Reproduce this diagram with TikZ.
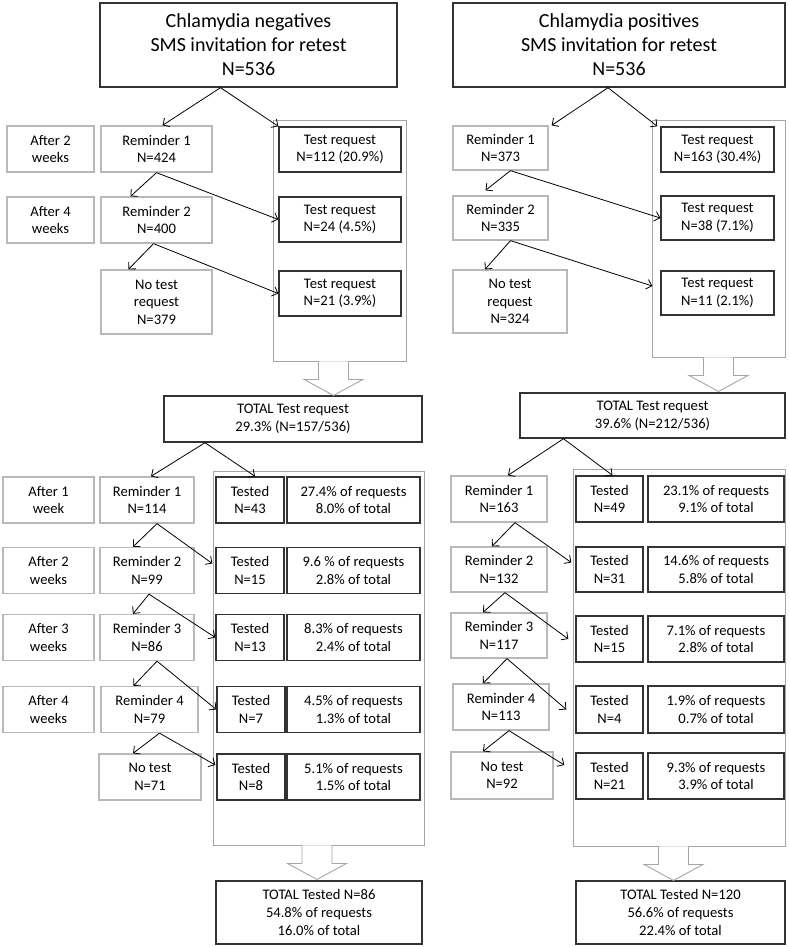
\documentclass[tikz,border=0pt]{standalone}
\usepackage{fontspec}
\setmainfont{Carlito}
\usetikzlibrary{arrows.meta,calc}
\definecolor{boxdark}{HTML}{333333}
\definecolor{boxlight}{HTML}{B8B8B8}
\definecolor{framegray}{HTML}{A6A6A6}
\newcommand\bodyfont{\fontsize{14.6}{17.6}\selectfont}
\newcommand\headfont{\fontsize{20}{24}\selectfont}
\newcommand\hollowarrow[1]{%
  \draw[hollow] ($(#1)+(-15,0)$) -- ++(0,18) -- ++(-14.5,0) -- ++(29.5,16)
    -- ++(29.5,-16) -- ++(-14.5,0) -- ++(0,-18);}
\tikzset{
  sz/.style 2 args={minimum width=#1,minimum height=#2},
  darkbox/.style={draw=boxdark,line width=1.4pt,align=center,inner sep=0pt,font=\bodyfont},
  lightbox/.style={draw=boxlight,line width=1.3pt,align=center,inner sep=0pt,font=\bodyfont},
  titlebox/.style={darkbox,font=\headfont},
  frame/.style={draw=framegray,line width=0.9pt,inner sep=0pt},
  flow/.style={-{Straight Barb[length=5pt,width=10pt]},line width=0.8pt},
  hollow/.style={draw=framegray,fill=white,line width=0.9pt}
}

\begin{document}
\begin{tikzpicture}[x=1pt,y=-1pt]
    \useasboundingbox (0,0) rectangle (788,947);

    % Chlamydia negatives: requests
    \node[titlebox,sz={297}{84}] (titleN) at (248.5,45) {Chlamydia negatives\\SMS invitation for retest\\N=536};
    \node[frame,sz={133}{241}] (reqframeN) at (339.5,240.5) {};
    \node[lightbox,sz={87}{46}] (wkrN2) at (50.5,149) {After 2\\weeks};
    \node[lightbox,sz={87}{46}] (wkrN4) at (50.5,220) {After 4\\weeks};
    \node[lightbox,sz={111}{46}] (remN1) at (156.5,149) {Reminder 1\\N=424};
    \node[lightbox,sz={111}{46}] (remN2) at (156.5,220) {Reminder 2\\N=400};
    \node[lightbox,sz={111}{64}] (noreqN) at (156.5,302) {No test\\request\\N=379};
    \node[darkbox,sz={122}{45}] (reqN1) at (340,149.5) {Test request\\N=112 (20.9\%)};
    \node[darkbox,sz={122}{45}] (reqN2) at (340,219.5) {Test request\\N=24 (4.5\%)};
    \node[darkbox,sz={122}{45}] (reqN3) at (340,293.5) {Test request\\N=21 (3.9\%)};
    \node[darkbox,sz={258}{46}] (reqtotN) at (293,419) {TOTAL Test request\\29.3\% (N=157/536)};

    \draw[flow] ([xshift=-28]titleN.south) -- ([xshift=6]remN1.north);
    \draw[flow] ([xshift=-28]titleN.south) -- (reqN1.north west);
    \draw[flow] (remN1.south) -- ([xshift=-26]remN2.north);
    \draw[flow] (remN1.south) -- (reqN2.west);
    \draw[flow] ([xshift=-3]remN2.south) -- ([xshift=-28]noreqN.north);
    \draw[flow] ([xshift=-3]remN2.south) -- (reqN3.west);
    \hollowarrow{[xshift=-6]reqframeN.south}

    % Chlamydia negatives: tested
    \node[frame,sz={211}{374}] (testframeN) at (318.5,658) {};
    \node[lightbox,sz={91}{46}] (wktN1) at (48.5,500) {After 1\\week};
    \node[lightbox,sz={91}{46}] (wktN2) at (48.5,570.5) {After 2\\weeks};
    \node[lightbox,sz={91}{46}] (wktN3) at (48.5,637.5) {After 3\\weeks};
    \node[lightbox,sz={91}{46}] (wktN4) at (48.5,709.5) {After 4\\weeks};
    \node[lightbox,sz={94}{46}] (rtN1) at (147,500) {Reminder 1\\N=114};
    \node[lightbox,sz={94}{46}] (rtN2) at (147,570.5) {Reminder 2\\N=99};
    \node[lightbox,sz={94}{46}] (rtN3) at (147,637.5) {Reminder 3\\N=86};
    \node[lightbox,sz={97}{46}] (rtN4) at (149.5,709.5) {Reminder 4\\N=79};
    \node[lightbox,sz={102}{46}] (notestN) at (150,777) {No test\\N=71};
    \node[darkbox,sz={68}{46}] (testN1) at (250,500) {Tested\\N=43};
    \node[darkbox,sz={68}{46}] (testN2) at (250,570.5) {Tested\\N=15};
    \node[darkbox,sz={68}{46}] (testN3) at (250,637.5) {Tested\\N=13};
    \node[darkbox,sz={68}{46}] (testN4) at (251,709.5) {Tested\\N=7};
    \node[darkbox,sz={68}{46}] (testN5) at (251,777) {Tested\\N=8};
    \node[darkbox,sz={133}{46}] (pctN1) at (353.5,500) {27.4\% of requests\\8.0\% of total};
    \node[darkbox,sz={133}{46}] (pctN2) at (353.5,570.5) {9.6 \% of requests\\2.8\% of total};
    \node[darkbox,sz={133}{46}] (pctN3) at (353.5,637.5) {8.3\% of requests\\2.4\% of total};
    \node[darkbox,sz={133}{46}] (pctN4) at (353.5,709.5) {4.5\% of requests\\1.3\% of total};
    \node[darkbox,sz={133}{46}] (pctN5) at (353.5,777) {5.1\% of requests\\1.5\% of total};
    \node[darkbox,sz={206}{63}] (testtotN) at (319,912.5) {TOTAL Tested N=86\\54.8\% of requests\\16.0\% of total};

    \draw[flow] ([xshift=-88]reqtotN.south) -- ([xshift=4]rtN1.north);
    \draw[flow] ([xshift=-88]reqtotN.south) -- ([xshift=5]testN1.north);
    \draw[flow] ([xshift=10]rtN1.south) -- ([xshift=-14]rtN2.north);
    \draw[flow] ([xshift=10]rtN1.south) -- ([shift={(-3,-7)}]testN2.west);
    \draw[flow] ([xshift=2]rtN2.south) -- ([xshift=-14]rtN3.north);
    \draw[flow] ([xshift=2]rtN2.south) -- (testN3.west);
    \draw[flow] ([xshift=10]rtN3.south) -- ([xshift=-16]rtN4.north);
    \draw[flow] ([xshift=10]rtN3.south) -- (testN4.west);
    \draw[flow] ([xshift=10]rtN4.south) -- ([xshift=-17]notestN.north);
    \draw[flow] ([xshift=10]rtN4.south) -- ([shift={(-1,-12)}]testN5.west);
    \hollowarrow{[xshift=-1.5]testframeN.south}

    % Chlamydia positives: requests
    \node[titlebox,sz={332}{84}] (titleP) at (619,45) {Chlamydia positives\\SMS invitation for retest\\N=536};
    \node[frame,sz={133}{237}] (reqframeP) at (718.5,238.5) {};
    \node[lightbox,sz={95}{44}] (remP1) at (500.5,148) {Reminder 1\\N=373};
    \node[lightbox,sz={95}{44}] (remP2) at (500.5,218) {Reminder 2\\N=335};
    \node[lightbox,sz={114}{63}] (noreqP) at (510,301.5) {No test\\request\\N=324};
    \node[darkbox,sz={113}{45}] (reqP1) at (717.5,149.5) {Test request\\N=163 (30.4\%)};
    \node[darkbox,sz={113}{44}] (reqP2) at (717.5,218) {Test request\\N=38 (7.1\%)};
    \node[darkbox,sz={113}{44}] (reqP3) at (717.5,293) {Test request\\N=11 (2.1\%)};
    \node[darkbox,sz={265}{45}] (reqtotP) at (652.5,415.5) {TOTAL Test request\\39.6\% (N=212/536)};

    \draw[flow] ([xshift=-11]titleP.south) -- ([xshift=3]remP1.north east);
    \draw[flow] ([xshift=-11]titleP.south) -- ([xshift=-3]reqP1.north west);
    \draw[flow] ([xshift=10]remP1.south) -- ([shift={(-15,-5)}]remP2.north);
    \draw[flow] ([xshift=10]remP1.south) -- (reqP2.west);
    \draw[flow] ([xshift=10]remP2.south) -- ([xshift=-25]noreqP.north);
    \draw[flow] ([xshift=10]remP2.south) -- ([shift={(-8,-7)}]reqP3.west);
    \hollowarrow{reqframeP.south}

    % Chlamydia positives: tested
    \node[frame,sz={212}{377}] (testframeP) at (679,657.5) {};
    \node[lightbox,sz={96}{46}] (rtP1) at (499,499) {Reminder 1\\N=163};
    \node[lightbox,sz={96}{45}] (rtP2) at (499,569.5) {Reminder 2\\N=132};
    \node[lightbox,sz={96}{45}] (rtP3) at (499,635.5) {Reminder 3\\N=117};
    \node[lightbox,sz={96}{46}] (rtP4) at (501,707) {Reminder 4\\N=113};
    \node[lightbox,sz={102}{47}] (notestP) at (502,775.5) {No test\\N=92};
    \node[darkbox,sz={67}{46}] (testP1) at (609.5,499) {Tested\\N=49};
    \node[darkbox,sz={67}{45}] (testP2) at (609.5,569.5) {Tested\\N=31};
    \node[darkbox,sz={67}{46}] (testP3) at (609.5,639) {Tested\\N=15};
    \node[darkbox,sz={67}{47}] (testP4) at (609.5,709.5) {Tested\\N=4};
    \node[darkbox,sz={67}{46}] (testP5) at (609.5,776) {Tested\\N=21};
    \node[darkbox,sz={136}{46}] (pctP1) at (716,499) {23.1\% of requests\\9.1\% of total};
    \node[darkbox,sz={136}{45}] (pctP2) at (716,569.5) {14.6\% of requests\\5.8\% of total};
    \node[darkbox,sz={136}{46}] (pctP3) at (716,639) {7.1\% of requests\\2.8\% of total};
    \node[darkbox,sz={136}{47}] (pctP4) at (716,709.5) {1.9\% of requests\\0.7\% of total};
    \node[darkbox,sz={136}{46}] (pctP5) at (716,776) {9.3\% of requests\\3.9\% of total};
    \node[darkbox,sz={209}{63}] (testtotP) at (680.5,912.5) {TOTAL Tested N=120\\56.6\% of requests\\22.4\% of total};

    \draw[flow] ([xshift=-89]reqtotP.south) -- ([xshift=9]rtP1.north);
    \draw[flow] ([xshift=-89]reqtotP.south) -- ([xshift=3]testP1.north);
    \draw[flow] ([xshift=16]rtP1.south) -- ([xshift=-7]rtP2.north);
    \draw[flow] ([xshift=16]rtP1.south) -- ([shift={(-4,-7)}]testP2.west);
    \draw[flow] ([xshift=6]rtP2.south) -- ([xshift=-16]rtP3.north);
    \draw[flow] ([xshift=6]rtP2.south) -- ([xshift=-7]testP3.west);
    \draw[flow] ([xshift=8]rtP3.south) -- ([xshift=-18]rtP4.north);
    \draw[flow] ([xshift=8]rtP3.south) -- ([xshift=-9]testP4.west);
    \draw[flow] ([xshift=8]rtP4.south) -- ([xshift=-19]notestP.north);
    \draw[flow] ([xshift=8]rtP4.south) -- ([shift={(-11,-11)}]testP5.west);
    \hollowarrow{[xshift=-5.5]testframeP.south}
\end{tikzpicture}
\end{document}
